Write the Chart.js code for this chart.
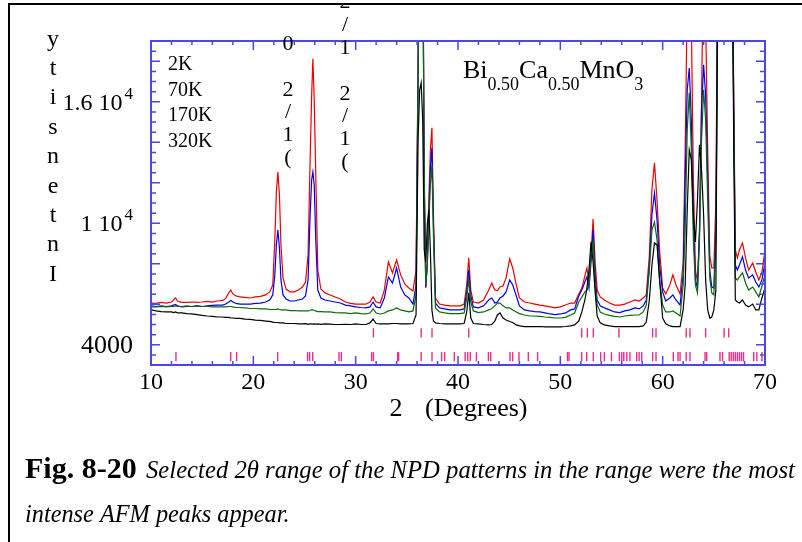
<!DOCTYPE html>
<html lang="en">
<head>
<meta charset="UTF-8" />
<title>Bi0.50Ca0.50MnO3 NPD patterns</title>
<script src="https://cdn.jsdelivr.net/npm/chart.js"></script>
<style>
  html, body { margin: 0; padding: 0; background: #fff; }
  #wrap { position: relative; width: 802px; height: 542px; }
</style>
</head>
<body>
<div id="wrap"><canvas id="npdChart"></canvas></div>
<script>
// 2-theta grid (degrees), denser around the peaks
const twoTheta = [
  10, 10.5, 11, 11.5, 12, 12.2, 12.4, 12.6, 13, 13.5,
  14, 14.5, 15, 15.5, 16, 16.5, 17, 17.3, 17.6, 17.8,
  18.0, 18.3, 18.7, 19.2, 19.7, 20.2, 20.7, 21.2, 21.6, 21.9,
  22.1, 22.25, 22.4, 22.55, 22.7, 22.9, 23.2, 23.6, 24.0, 24.4,
  24.8, 25.1, 25.35, 25.55, 25.7, 25.82, 25.95, 26.1, 26.3, 26.6,
  27.0, 27.5, 28.0, 28.5, 29.0, 29.5, 30.0, 30.5, 31.0, 31.4,
  31.7, 32.0, 32.4, 32.8, 33.2, 33.6, 34.0, 34.4, 34.8, 35.2,
  35.6, 35.9, 36.1, 36.25, 36.4, 36.55, 36.7, 36.85, 37.0, 37.15,
  37.3, 37.45, 37.6, 37.8, 38.2, 38.7, 39.2, 39.7, 40.2, 40.6,
  40.85, 41.05, 41.25, 41.5, 42.0, 42.5, 43.0, 43.3, 43.6, 43.85,
  44.1, 44.4, 44.7, 45.05, 45.35, 45.7, 46.0, 46.5, 47.0, 47.5,
  48.0, 48.5, 49.0, 49.5, 50.0, 50.5, 51.0, 51.4, 51.8, 52.1,
  52.4, 52.6, 52.8, 53.0, 53.2, 53.4, 53.6, 53.9, 54.3, 54.8,
  55.3, 55.8, 56.3, 56.8, 57.3, 57.7, 58.1, 58.4, 58.7, 58.95,
  59.2, 59.45, 59.7, 60.0, 60.3, 60.7, 61.0, 61.3, 61.7, 62.0,
  62.2, 62.4, 62.6, 62.8, 63.0, 63.2, 63.4, 63.6, 63.8, 64.0,
  64.2, 64.4, 64.6, 64.8, 65.0, 65.2, 65.4, 65.6, 65.8, 66.0,
  66.3, 66.6, 66.8, 66.95, 67.1, 67.3, 67.5, 67.8, 68.1, 68.4,
  68.8, 69.1, 69.4, 69.7, 70.0
];

// intensities (counts) at each temperature
const int2K = [
  6060, 6040, 6090, 6060, 6110, 6210, 6310, 6160, 6090, 6090,
  6110, 6090, 6110, 6140, 6110, 6160, 6190, 6290, 6560, 6700,
  6510, 6410, 6360, 6340, 6310, 6360, 6390, 6460, 6610, 6950,
  9180, 11550, 12530, 11400, 8930, 7300, 6750, 6610, 6610, 6700,
  6850, 7100, 8430, 13130, 16340, 18120, 16090, 12390, 7690, 6750,
  6560, 6460, 6360, 6260, 6110, 6040, 6010, 6010, 6010, 6110,
  6360, 6110, 6060, 6700, 8090, 7550, 8190, 7450, 7000, 6800,
  6660, 7690, 18070, 30000, 34000, 26000, 12140, 6800, 8190, 11150,
  13620, 14710, 10410, 6310, 6010, 5960, 5920, 5920, 5920, 6010,
  6950, 8290, 6700, 6110, 6060, 6210, 6700, 7050, 6700, 6660,
  6850, 6900, 7300, 8240, 7790, 6950, 6310, 6110, 6060, 6010,
  5960, 5920, 5870, 5820, 5870, 5960, 6060, 6060, 6510, 6800,
  7400, 7790, 7100, 8430, 10210, 8090, 6700, 6360, 6210, 6060,
  5960, 5960, 6010, 6110, 6210, 6160, 6310, 6460, 8430, 11650,
  12980, 11150, 8680, 6800, 6510, 6950, 7450, 6950, 6510, 8040,
  13620, 21000, 24000, 20000, 12140, 7690, 7100, 9670, 16090, 24000,
  20000, 13620, 8430, 7790, 7790, 11150, 25000, 32000, 28000, 24000,
  26000, 30000, 24000, 16090, 8680, 8290, 8680, 9030, 8290, 7690,
  8040, 7590, 7200, 7590, 8680
];
const int70K = [
  5920, 5890, 5920, 5890, 5920, 5960, 5990, 5920, 5870, 5890,
  5890, 5920, 5890, 5920, 5940, 5960, 5960, 6010, 6110, 6190,
  6110, 6040, 6010, 6010, 6010, 6040, 6060, 6110, 6210, 6460,
  7450, 8930, 9670, 8780, 7200, 6460, 6260, 6160, 6160, 6210,
  6260, 6410, 7200, 10410, 12140, 12530, 11890, 9180, 6700, 6310,
  6210, 6160, 6110, 6060, 5960, 5920, 5870, 5840, 5820, 5870,
  6110, 5870, 5820, 6310, 7350, 7050, 7790, 6850, 6460, 6310,
  6010, 6950, 17570, 29000, 33000, 25000, 11890, 6850, 7940, 10410,
  12730, 13720, 9920, 6060, 5820, 5770, 5720, 5720, 5720, 5770,
  6610, 7690, 6410, 5870, 5820, 5920, 6210, 6310, 6060, 6110,
  6310, 6410, 6610, 7200, 6950, 6410, 5920, 5720, 5670, 5640,
  5620, 5570, 5520, 5490, 5520, 5570, 5720, 5770, 6410, 6700,
  7100, 7350, 6800, 8090, 9670, 7450, 6210, 5920, 5820, 5720,
  5620, 5590, 5670, 5720, 5820, 5770, 5920, 6210, 7940, 10410,
  11500, 10160, 7940, 6610, 6160, 6310, 6460, 6210, 5960, 7450,
  12140, 16590, 17670, 15100, 10160, 7200, 6800, 9670, 15600, 17820,
  16340, 12140, 7690, 6850, 6800, 9670, 23000, 30000, 27000, 23000,
  25000, 28000, 23000, 15600, 7940, 7690, 7940, 8340, 7690, 7300,
  7450, 7100, 6850, 7200, 8040
];
const int170K = [
  5870, 5870, 5890, 5870, 5890, 5890, 5920, 5890, 5890, 5920,
  5890, 5920, 5890, 5890, 5870, 5870, 5870, 5870, 5890, 5890,
  5870, 5840, 5840, 5820, 5790, 5790, 5770, 5770, 5740, 5740,
  5740, 5740, 5770, 5740, 5720, 5720, 5720, 5690, 5690, 5670,
  5670, 5670, 5670, 5690, 5720, 5720, 5690, 5670, 5640, 5640,
  5620, 5620, 5590, 5570, 5570, 5540, 5570, 5540, 5520, 5570,
  5770, 5570, 5520, 5570, 5670, 5720, 5820, 5720, 5670, 5620,
  5670, 6460, 17330, 28000, 32000, 24000, 12390, 6950, 7940, 9920,
  11890, 12880, 9420, 5820, 5620, 5570, 5540, 5540, 5540, 5570,
  6310, 7200, 6110, 5670, 5590, 5620, 5720, 5790, 5920, 6060,
  6060, 5920, 5820, 5820, 5720, 5620, 5540, 5470, 5420, 5420,
  5400, 5370, 5350, 5320, 5320, 5350, 5470, 5570, 6110, 6360,
  6610, 6700, 6950, 8430, 9080, 6950, 5960, 5620, 5520, 5450,
  5400, 5370, 5420, 5450, 5470, 5470, 5620, 5960, 7690, 9670,
  10060, 9180, 7200, 5960, 5620, 5620, 5670, 5570, 5420, 6950,
  9670, 14610, 16440, 13620, 9180, 6950, 6560, 9180, 14120, 16590,
  15100, 11150, 7300, 6560, 6460, 9180, 22000, 29000, 26000, 22000,
  24000, 27000, 22000, 15100, 7300, 7200, 7350, 7550, 7050, 6700,
  6850, 6610, 6360, 6900, 7450
];
const int320K = [
  5720, 5670, 5640, 5620, 5620, 5590, 5620, 5570, 5570, 5540,
  5520, 5490, 5450, 5420, 5400, 5370, 5370, 5350, 5350, 5320,
  5320, 5300, 5300, 5270, 5250, 5220, 5200, 5170, 5150, 5120,
  5100, 5100, 5100, 5080, 5080, 5080, 5050, 5050, 5050, 5030,
  5030, 5040, 5010, 5030, 5030, 5020, 5030, 5020, 5030, 5010,
  5030, 5020, 5000, 5000, 5010, 5000, 5030, 5000, 5000, 5080,
  5270, 5050, 5030, 5030, 5030, 5050, 5050, 5030, 5030, 5030,
  5050, 5470, 14120, 16590, 16930, 15100, 8680, 8090, 9920, 10660,
  8680, 5720, 5170, 5080, 5050, 5030, 5030, 5030, 5030, 5050,
  5620, 6560, 5320, 5050, 5030, 5000, 4980, 5000, 5170, 5470,
  5570, 5320, 5220, 5150, 5100, 4980, 4930, 4900, 4900, 4900,
  4900, 4880, 4880, 4880, 4880, 4900, 4930, 4980, 5170, 5620,
  6210, 6800, 7690, 9080, 8090, 6610, 5420, 5080, 4980, 4930,
  4900, 4900, 4900, 4900, 4900, 4900, 4930, 5120, 6210, 7940,
  9030, 8930, 7200, 5320, 5030, 4930, 4900, 4900, 4900, 5720,
  6950, 10660, 13620, 13130, 10410, 9080, 11150, 13870, 12630, 10410,
  7200, 5720, 5320, 5370, 5720, 6700, 24000, 31000, 28000, 24000,
  26000, 29000, 23000, 13620, 6210, 6110, 6060, 6210, 5960, 5870,
  6010, 5720, 5720, 6310, 6800
];

// Bragg reflection positions (degrees)
const reflUpper = [31.73, 36.4, 37.46, 41.05, 52.09, 52.64, 53.22, 55.73,
  59.02, 59.35, 62.3, 62.67, 64.2, 66.0, 66.45];
const reflLower = [12.44, 17.79, 18.37, 22.38, 25.3, 25.5, 25.8, 28.37, 28.6,
  31.56, 31.73, 34.1, 34.2, 36.4, 37.46, 38.4, 38.7, 39.64, 40.7, 40.95, 41.2,
  41.8, 42.97, 43.2, 45.08, 45.34, 45.96, 46.87, 47.78, 50.7, 50.85, 52.09,
  52.58, 53.22, 53.94, 54.3, 55.0, 55.77, 56.0, 56.2, 56.5, 56.8, 57.46, 57.7,
  57.95, 59.02, 59.35, 61.04, 61.5, 61.7, 62.3, 62.67, 64.14, 64.3, 65.6,
  65.85, 66.5, 66.7, 66.9, 67.1, 67.3, 67.5, 67.7, 67.9, 68.9, 69.2, 69.7];

const temperatures = ['2K', '70K', '170K', '320K'];
const xTickValues = [10, 20, 30, 40, 50, 60, 70];
const xTickLabels = ['10', '20', '30', '40', '50', '60', '70'];
const yTickValues = [4000, 10000, 16000];
const yTickMant = ['4000', '1 10', '1.6 10'];
const yTickExp = ['', '4', '4'];

[int2K, int70K, int170K, int320K].forEach((s, i) => {
  if (s.length !== twoTheta.length) throw new Error('series ' + i + ' has ' + s.length + ' points, grid has ' + twoTheta.length);
});

const SERIF = '"Liberation Serif", "Times New Roman", serif';
const AXIS_BLUE = '#4848ea';
const TICK_PINK = '#ee2a8c';
const UPPER_LEVEL = 4590;   // counts where the two marker rows sit
const LOWER_LEVEL = 3410;

const toXY = vals => twoTheta.map((t, i) => ({ x: t, y: vals[i] }));

function curve(label, vals, color, order) {
  return {
    label, data: toXY(vals), borderColor: color, borderWidth: 1.2,
    pointRadius: 0, tension: 0, fill: false, order
  };
}
function markers(positions, level) {
  return {
    type: 'scatter', data: positions.map(t => ({ x: t, y: level })),
    showLine: false, pointStyle: 'line', pointRotation: 90, pointRadius: 4.6,
    pointBorderColor: TICK_PINK, pointBorderWidth: 1.4, order: 5
  };
}

function drawText(ctx, s, x, y, font, align) {
  ctx.font = font;
  ctx.textAlign = align || 'left';
  ctx.textBaseline = 'alphabetic';
  ctx.fillText(s, x, y);
}

const decor = {
  id: 'decor',
  afterDatasetsDraw(chart) {
    const { ctx, chartArea: a, scales: { x, y } } = chart;
    ctx.save();
    ctx.strokeStyle = AXIS_BLUE;
    ctx.lineWidth = 1.5;
    ctx.beginPath();
    for (let t = 10; t <= 70; t += 2) {
      const px = x.getPixelForValue(t);
      const len = t % 10 === 0 ? 9 : 4;
      ctx.moveTo(px, a.bottom); ctx.lineTo(px, a.bottom - len);
      ctx.moveTo(px, a.top); ctx.lineTo(px, a.top + len);
    }
    for (let v = 3500; v < 19000; v += 500) {
      const py = y.getPixelForValue(v);
      const len = v % 2000 === 0 ? 9 : 5;
      ctx.moveTo(a.left, py); ctx.lineTo(a.left + len, py);
      ctx.moveTo(a.right, py); ctx.lineTo(a.right - len, py);
    }
    ctx.stroke();
    ctx.lineWidth = 2;
    ctx.strokeRect(a.left, a.top, a.right - a.left, a.bottom - a.top);
    ctx.restore();
  },
  afterDraw(chart) {
    const { ctx, chartArea: a, scales: { x, y } } = chart;
    ctx.save();
    // everything stays inside the page frame
    ctx.beginPath();
    ctx.rect(10, 5, 792, 537);
    ctx.clip();
    ctx.fillStyle = '#000';

    // x tick labels and title
    xTickValues.forEach((t, i) => {
      drawText(ctx, xTickLabels[i], x.getPixelForValue(t), a.bottom + 24, '24px ' + SERIF, 'center');
    });
    drawText(ctx, '2', 396, 416, '26px ' + SERIF, 'center');
    drawText(ctx, '(Degrees)', 425, 416, '26px ' + SERIF);

    // y tick labels with exponents
    yTickValues.forEach((v, i) => {
      const py = y.getPixelForValue(v) + 8;
      let right = 133;
      if (yTickExp[i]) {
        drawText(ctx, yTickExp[i], right, py - 11, '17px ' + SERIF, 'right');
        ctx.font = '17px ' + SERIF;
        right -= ctx.measureText(yTickExp[i]).width + 2;
      }
      drawText(ctx, yTickMant[i], right, py, (yTickExp[i] ? '24px ' : '26px ') + SERIF, 'right');
    });

    // stacked y title
    'Intensity'.split('').reverse().forEach((ch, i) => {
      drawText(ctx, ch, 53, 45.5 + i * 29.4, '24px ' + SERIF, 'center');
    });

    // temperature list
    temperatures.forEach((s, i) => {
      drawText(ctx, s, 168, 70 + i * 25.7, '20px ' + SERIF);
    });

    // compound name with subscripts
    let cx = 463;
    [['Bi', 0], ['0.50', 1], ['Ca', 0], ['0.50', 1], ['MnO', 0], ['3', 1]].forEach(([s, sub]) => {
      const f = (sub ? '18px ' : '26px ') + SERIF;
      drawText(ctx, s, cx, sub ? 90 : 78, f);
      ctx.font = f;
      cx += ctx.measureText(s).width;
    });

    // stacked reflection labels
    const stack = (chars, px, base) => chars.forEach((ch, i) => {
      drawText(ctx, ch, px, base - i * 22.8, '22px ' + SERIF, 'center');
    });
    stack(['(', '1', '/', '2', ' ', '0'], 288, 164);
    stack(['(', '1', '/', '2', ' ', '1', '/', '2'], 345, 168);

    // caption
    drawText(ctx, 'Fig. 8-20', 25, 478, 'bold 30px ' + SERIF);
    drawText(ctx, 'Selected 2\u03b8 range of the NPD patterns in the range were the most', 146, 478, 'italic 24.7px ' + SERIF);
    drawText(ctx, 'intense AFM peaks appear.', 25, 522, 'italic 24.3px ' + SERIF);
    ctx.restore();

    // page frame
    ctx.save();
    ctx.fillStyle = '#000';
    ctx.fillRect(8, 3, 794, 2);
    ctx.fillRect(8, 3, 2, 539);
    ctx.restore();
  }
};

new Chart(document.getElementById('npdChart'), {
  type: 'line',
  data: {
    datasets: [
      curve('2K', int2K, '#ee0000', 4),
      curve('70K', int70K, '#0000ee', 3),
      curve('170K', int170K, '#0a6a0a', 2),
      curve('320K', int320K, '#000000', 1),
      markers(reflUpper, UPPER_LEVEL),
      markers(reflLower, LOWER_LEVEL)
    ]
  },
  options: {
    responsive: true,
    maintainAspectRatio: false,
    animation: false,
    layout: { padding: { left: 151, top: 41, right: 37, bottom: 177 } },
    scales: {
      x: { type: 'linear', min: 10, max: 70, display: false },
      y: { type: 'linear', min: 3000, max: 19000, display: false }
    },
    plugins: { legend: { display: false }, tooltip: { enabled: false } }
  },
  plugins: [decor]
});
</script>
</body>
</html>
